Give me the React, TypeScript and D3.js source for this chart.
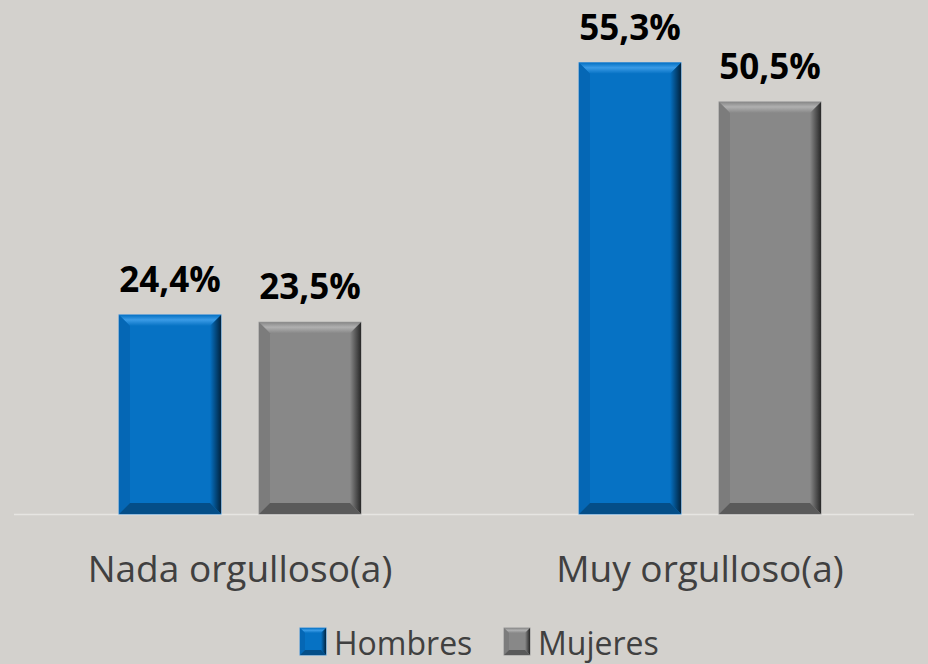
import React from "react"
import * as d3 from "d3"

const categories = ["Nada orgulloso(a)", "Muy orgulloso(a)"]
const series = ["Hombres", "Mujeres"]
const hombres = [24.4, 55.3]
const mujeres = [23.5, 50.5]
const values = [hombres, mujeres]

const W = 928
const H = 664
const base = 514

const palette: any = {
  Hombres: { id: "h", face: "#0672c4", top: "#3a9be6", left: "#0567b5", right: "#012440", bottom: "#044e88", edge: "#3f90d6" },
  Mujeres: { id: "m", face: "#888888", top: "#b0b0b0", left: "#7c7c7c", right: "#282828", bottom: "#5a5a5a", edge: "#9a9a9a" },
}

const fmt = (v: number) => v.toFixed(1).replace(".", ",") + "%"

function Bar({ x, y, w, h, c, b0 = 11 }: any) {
  const b = Math.min(b0, h / 2)
  const x2 = x + w
  const y2 = y + h
  return (
    <g>
      <rect x={x} y={y} width={w} height={h} fill={c.face} stroke={c.edge} strokeWidth={1} />
      <polygon points={`${x},${y} ${x2},${y} ${x2 - b},${y + b} ${x + b},${y + b}`} fill={`url(#top-${c.id})`} />
      <polygon points={`${x},${y} ${x + b},${y + b} ${x + b},${y2 - b} ${x},${y2}`} fill={c.left} />
      <polygon points={`${x2},${y} ${x2},${y2} ${x2 - b},${y2 - b} ${x2 - b},${y + b}`} fill={`url(#right-${c.id})`} />
      <polygon points={`${x},${y2} ${x + b},${y2 - b} ${x2 - b},${y2 - b} ${x2},${y2}`} fill={c.bottom} />
    </g>
  )
}

export default function App() {
  const x0 = d3.scaleBand().domain(categories).range([10, 930]).padding(0)
  const bw = x0.bandwidth()
  const x1 = d3.scaleBand().domain(series).range([bw / 2 - 121, bw / 2 + 121]).paddingInner(38 / 140).paddingOuter(0)
  const y = d3.scaleLinear().domain([0, 60]).range([base, base - 60 * 8.16])

  return (
    <svg width={W} height={H} style={{ position: "absolute", left: 0, top: 0, background: "#d3d1cd" }}
      fontFamily="'Open Sans', 'Noto Sans', sans-serif">
      <defs>
        {series.map(s => {
          const c = palette[s]
          return (
            <React.Fragment key={s}>
              <linearGradient id={`top-${c.id}`} x1="0" y1="0" x2="0" y2="1">
                <stop offset="0" stopColor={c.face} />
                <stop offset="0.45" stopColor={c.top} />
                <stop offset="1" stopColor={c.face} />
              </linearGradient>
              <linearGradient id={`right-${c.id}`} x1="0" y1="0" x2="1" y2="0">
                <stop offset="0" stopColor={c.face} />
                <stop offset="1" stopColor={c.right} />
              </linearGradient>
            </React.Fragment>
          )
        })}
      </defs>
      <rect width={W} height={H} fill="#d3d1cd" />
      <line x1={14} x2={914} y1={base + 0.5} y2={base + 0.5} stroke="#e6e5e2" strokeWidth={1.5} />
      {categories.map((cat, i) => (
        <g key={cat} transform={`translate(${x0(cat)},0)`}>
          {series.map((s, j) => {
            const v = values[j][i]
            const bx = x1(s) as number
            const by = y(v)
            return (
              <g key={s}>
                <Bar x={bx} y={by} w={x1.bandwidth()} h={base - by} c={palette[s]} />
                <text x={bx + x1.bandwidth() / 2} y={by - 23} textAnchor="middle" fontSize={35} fontWeight="bold" fill="#000">
                  {fmt(v)}
                </text>
              </g>
            )
          })}
          <text x={bw / 2} y={582} textAnchor="middle" fontSize={37} fill="#404040">{cat}</text>
        </g>
      ))}
      {series.map((s, j) => {
        const lx = [300, 504][j]
        const c = palette[s]
        return (
          <g key={s}>
            <Bar x={lx} y={628} w={26} h={27} c={c} b0={5} />
            <text x={lx + 34} y={655} fontSize={32} fill="#404040">{s}</text>
          </g>
        )
      })}
    </svg>
  )
}
